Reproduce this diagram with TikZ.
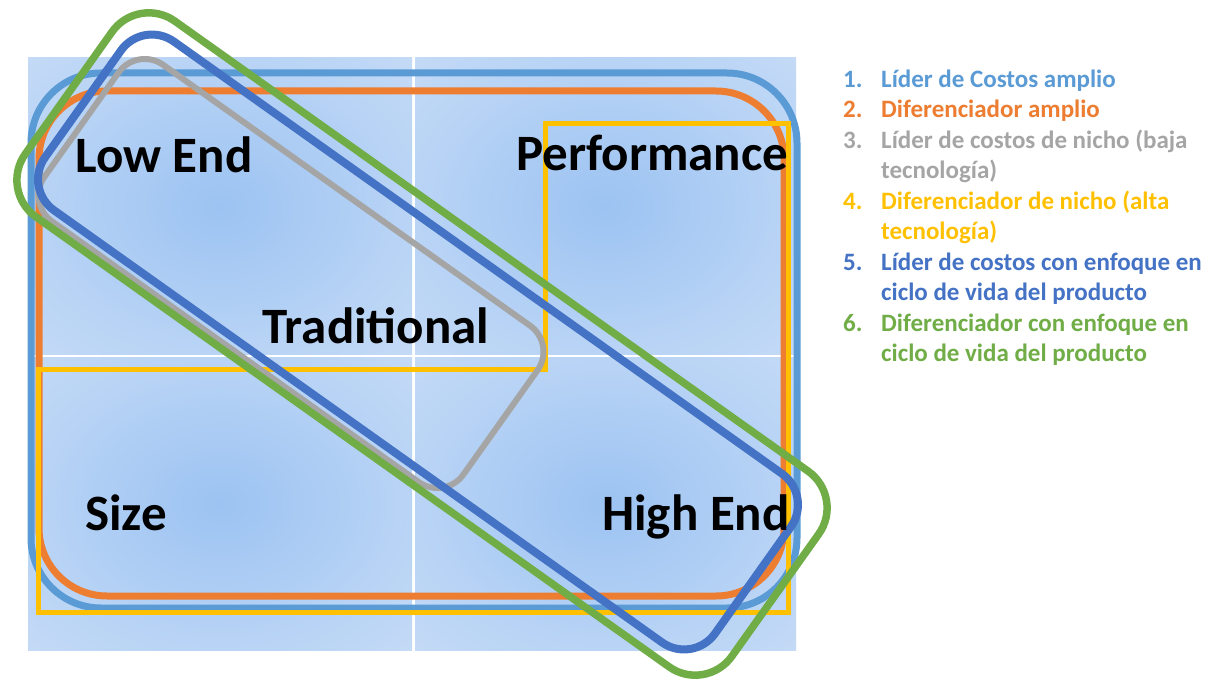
\documentclass[tikz,border=0pt]{standalone}
\usepackage{fontspec}
\setmainfont{Carlito}
\definecolor{cLB}{HTML}{5B9BD5}
\definecolor{cOR}{HTML}{ED7D31}
\definecolor{cGR}{HTML}{A5A5A5}
\definecolor{cYE}{HTML}{FFC000}
\definecolor{cBL}{HTML}{4472C4}
\definecolor{cGN}{HTML}{70AD47}
\definecolor{bg0}{HTML}{9CC3F2}
\definecolor{bg1}{HTML}{B6D2F5}
\definecolor{bg2}{HTML}{CEE0F7}
\definecolor{bg3}{HTML}{DFEAF9}
\pgfdeclareradialshading{cellshade}{\pgfpoint{0bp}{0bp}}{color(0bp)=(bg0); color(22bp)=(bg1); color(45bp)=(bg2); color(71bp)=(bg3)}
\begin{document}
\begin{tikzpicture}[x=1pt,y=-1pt,
  cell/.style={shading=cellshade},
  quad/.style={font=\fontsize{51}{60}\selectfont\bfseries, anchor=base west, inner sep=0pt},
  leg/.style={font=\fontsize{25}{30}\selectfont\bfseries, anchor=base west, inner sep=0pt},
  band/.style={draw, rotate=-35.4, inner sep=0pt, fill=none}]
\useasboundingbox[fill=white] (0,0) rectangle (1213,679);
% background cells
\shade[cell] (28,58) rectangle (412,354);
\shade[cell] (415,58) rectangle (796,354);
\shade[cell] (28,357) rectangle (412,650);
\shade[cell] (415,357) rectangle (796,650);
% 1. broad cost leader
\draw[cLB, line width=7pt, rounded corners=70pt] (31,73) rectangle (797,608);
% 2. broad differentiator
\draw[cOR, line width=7pt, rounded corners=68pt] (39,91) rectangle (784,596);
% 4. niche differentiator
\draw[cYE, line width=5pt, line join=miter] (545,124) -- (788,124) -- (788,612) -- (38,612) -- (38,369) -- (545,369) -- cycle;
% 3. niche cost leader
\node[band, cGR, line width=6pt, rounded corners=32pt, minimum width=514pt, minimum height=192pt] (gray) at (291,273.5) {};
% 5. cost leader life cycle
\node[band, cBL, line width=8pt, rounded corners=38pt, minimum width=822pt, minimum height=207pt] (blue) at (418,342) {};
% 6. differentiator life cycle
\node[band, cGN, line width=7.5pt, rounded corners=45pt, minimum width=867pt, minimum height=240pt] (green) at (422,344) {};
% quadrant labels
\node[quad] (lowend) at (75,173) {Low End};
\node[quad] (perf) at (516,171) {Performance};
\node[quad] (trad) at (262,343) {Traditional};
\node[quad] (size) at (85,530) {Size};
\node[quad] (highend) at (602,530) {High End};
% legend
\node[leg, cLB] (n1) at (843,87.3) {1.};
\node[leg, cLB] (t1) at (881,87.3) {Líder de Costos amplio};
\node[leg, cOR] (n2) at (843,117.8) {2.};
\node[leg, cOR] (t2) at (881,117.8) {Diferenciador amplio};
\node[leg, cGR] (n3) at (843,148.3) {3.};
\node[leg, cGR] (t3) at (881,148.3) {Líder de costos de nicho (baja};
\node[leg, cGR] (t3b) at (881,178.8) {tecnología)};
\node[leg, cYE] (n4) at (843,209.3) {4.};
\node[leg, cYE] (t4) at (881,209.3) {Diferenciador de nicho (alta};
\node[leg, cYE] (t4b) at (881,239.8) {tecnología)};
\node[leg, cBL] (n5) at (843,270.3) {5.};
\node[leg, cBL] (t5) at (881,270.3) {Líder de costos con enfoque en};
\node[leg, cBL] (t5b) at (881,300.8) {ciclo de vida del producto};
\node[leg, cGN] (n6) at (843,331.3) {6.};
\node[leg, cGN] (t6) at (881,331.3) {Diferenciador con enfoque en};
\node[leg, cGN] (t6b) at (881,361.8) {ciclo de vida del producto};
\end{tikzpicture}
\end{document}
